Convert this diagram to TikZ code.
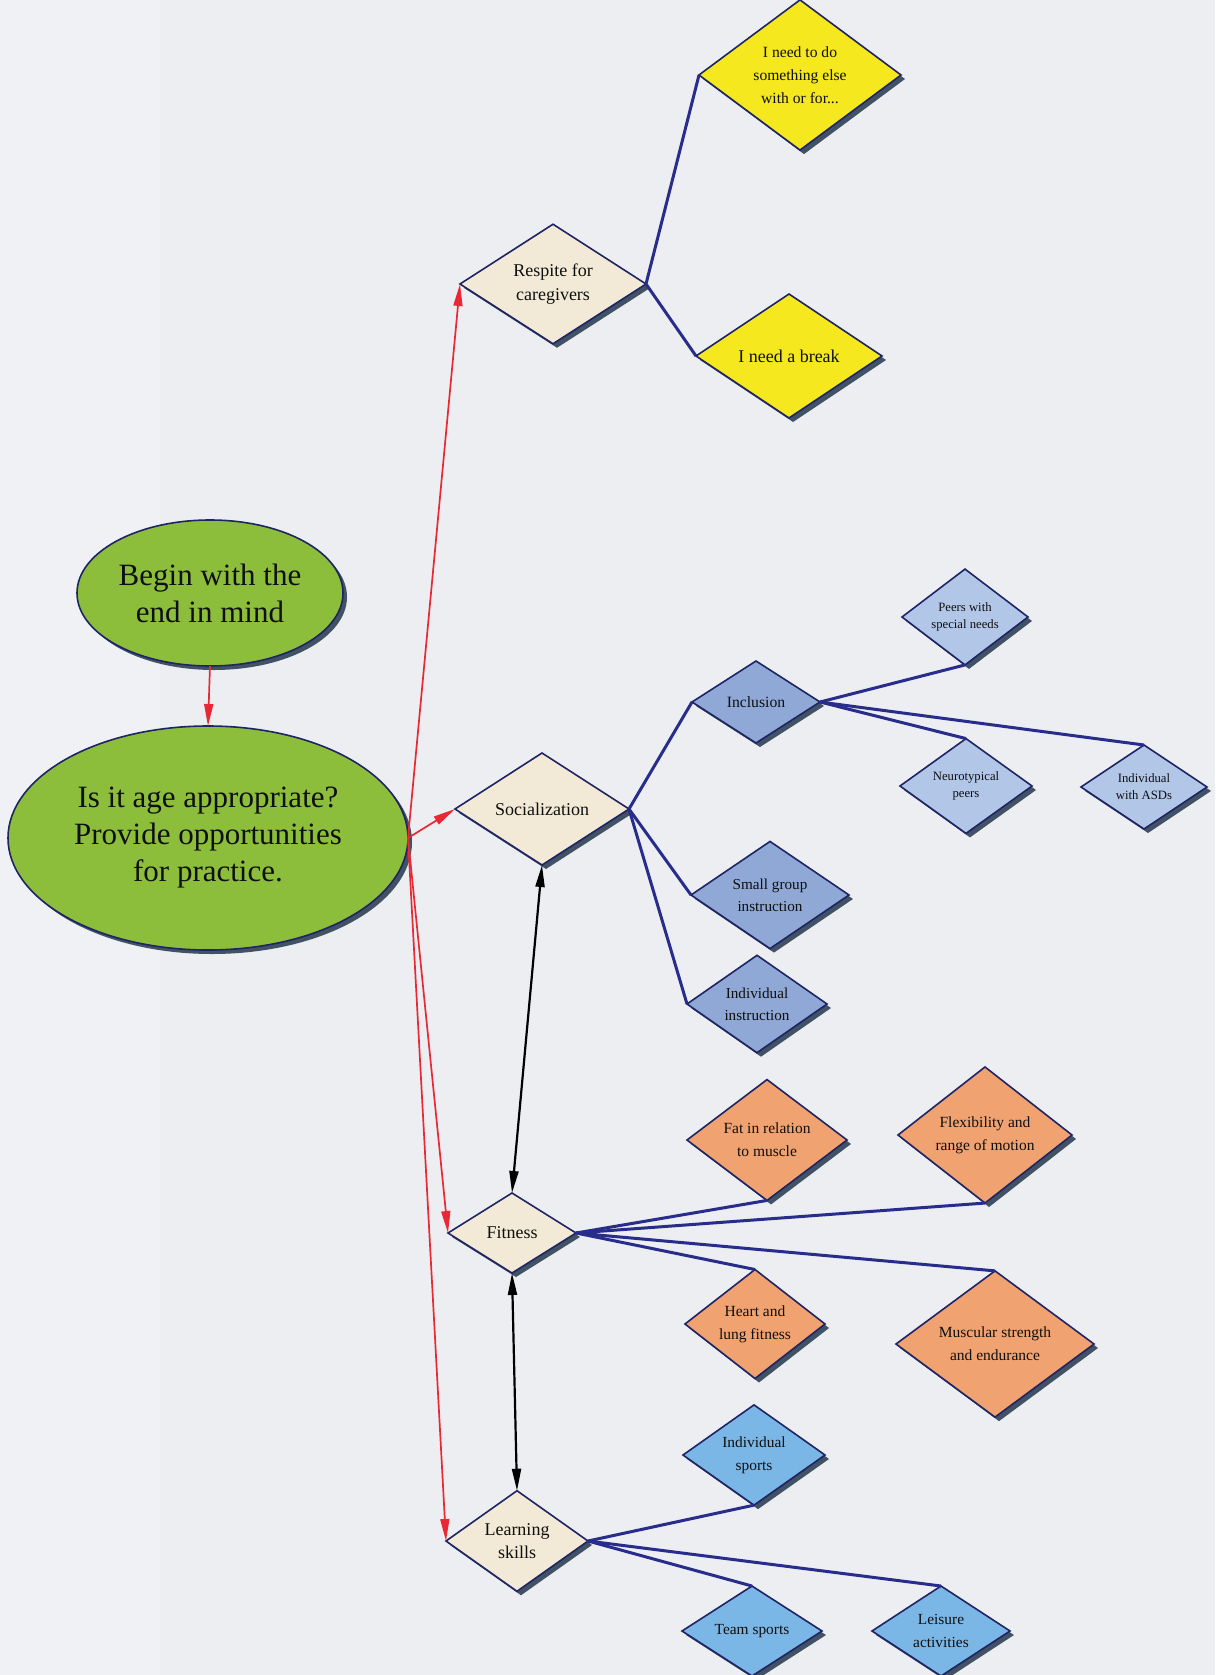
\documentclass[tikz,border=0pt]{standalone}
\usepackage{fontspec}
\setmainfont{Liberation Serif}
\usetikzlibrary{shapes.geometric,arrows.meta,shadows}
\definecolor{bgc}{RGB}{236,238,242}
\definecolor{bgl}{RGB}{240,241,244}
\definecolor{navy}{RGB}{30,36,100}
\definecolor{linkc}{RGB}{40,45,140}
\definecolor{redc}{RGB}{232,40,52}
\definecolor{greenc}{RGB}{140,190,60}
\definecolor{beige}{RGB}{242,234,214}
\definecolor{yel}{RGB}{245,232,30}
\definecolor{socb}{RGB}{143,168,214}
\definecolor{socl}{RGB}{178,198,232}
\definecolor{orng}{RGB}{240,162,112}
\definecolor{skyb}{RGB}{122,182,230}
\definecolor{shadowc}{RGB}{48,66,86}
\definecolor{textc}{RGB}{15,15,15}
\newcommand\myfs[2]{\fontsize{#1}{#2}\selectfont}
\begin{document}
\begin{tikzpicture}[x=1pt,y=-1pt,
  dia/.style={diamond, draw=navy, line width=1.6pt, inner sep=0pt, outer sep=0pt,
    align=center, text=textc,
    drop shadow={shadow xshift=4pt, shadow yshift=-4pt, fill=shadowc, opacity=0.9}},
  ell/.style={ellipse, draw=navy, line width=1.6pt, fill=greenc, inner sep=0pt, outer sep=0pt,
    align=center, text=textc, font=\myfs{31}{37},
    drop shadow={shadow xshift=4pt, shadow yshift=-4pt, fill=shadowc, opacity=0.9}},
  dsz/.style 2 args={minimum width=#1pt, minimum height=#2pt},
  main/.style={dia, fill=beige, font=\myfs{18}{23.5}},
  link/.style={draw=linkc, line width=3pt, line join=round},
  redarrow/.style={draw=redc, line width=1.7pt, -{Triangle[length=22pt,width=9pt]}, fill=redc},
  duo/.style={draw=black, line width=2.2pt, {Triangle[length=22pt,width=9pt]}-{Triangle[length=22pt,width=9pt]}}
]
\useasboundingbox (0,0) rectangle (1215,1675);
\fill[bgc] (0,0) rectangle (1215,1675);
\fill[bgl] (0,0) rectangle (160,1675);

% ellipses
\node[ell, minimum width=266pt, minimum height=146pt] (begin) at (210,593) {Begin with the\\end in mind};
\node[ell, minimum width=400pt, minimum height=224pt] (age) at (208,838) {Is it age appropriate?\\Provide opportunities\\for practice.};

% main diamonds
\node[main, dsz={186}{116}] (resp) at (553,284) {Respite for\\caregivers};
\node[main, dsz={174}{112}] (soc) at (542,809) {Socialization};
\node[main, dsz={128}{80}] (fit) at (512,1233) {Fitness};
\node[main, dsz={142}{90}] (learn) at (517,1541) {Learning\\skills};

% respite children
\node[dia, fill=yel, dsz={202}{126}, font=\myfs{15.6}{23}] (yel1) at (800,75) {I need to do\\something else\\with or for...};
\node[dia, fill=yel, dsz={186}{124}, font=\myfs{18}{23}] (brk) at (789,356) {I need a break};

% socialization children
\node[dia, fill=socb, dsz={128}{82}, font=\myfs{15.7}{21.7}] (incl) at (756,702) {Inclusion};
\node[dia, fill=socb, dsz={158}{104}, font=\myfs{15.2}{21.7}] (small) at (770,895) {Small group\\instruction};
\node[dia, fill=socb, dsz={140}{86}, font=\myfs{15.2}{21.7}] (indiv) at (757,1004) {Individual\\instruction};
\node[dia, fill=socl, dsz={126}{84}, font=\myfs{12.7}{17}] (peers) at (965,617) {Peers with\\special needs};
\node[dia, fill=socl, dsz={132}{84}, font=\myfs{12.7}{17}] (neuro) at (966,786) {Neurotypical\\peers};
\node[dia, fill=socl, dsz={126}{84}, font=\myfs{12.7}{17}] (asd) at (1144,787) {Individual\\with ASDs};

% fitness children
\node[dia, fill=orng, dsz={160}{104}, font=\myfs{15.5}{23}] (fat) at (767,1140) {Fat in relation\\to muscle};
\node[dia, fill=orng, dsz={174}{118}, font=\myfs{15.5}{23}] (flex) at (985,1135) {Flexibility and\\range of motion};
\node[dia, fill=orng, dsz={140}{92}, font=\myfs{15.5}{23}] (heart) at (755,1324) {Heart and\\lung fitness};
\node[dia, fill=orng, dsz={198}{132}, font=\myfs{15.5}{23}] (musc) at (995,1344) {Muscular strength\\and endurance};

% learning children
\node[dia, fill=skyb, dsz={142}{90}, font=\myfs{15.4}{23}] (isports) at (754,1455) {Individual\\sports};
\node[dia, fill=skyb, dsz={140}{90}, font=\myfs{15.4}{23}] (team) at (752,1631) {Team sports};
\node[dia, fill=skyb, dsz={138}{90}, font=\myfs{15.4}{23}] (leis) at (941,1631) {Leisure\\activities};

% blue links
\draw[link] (yel1.west) -- (resp.east) -- (brk.west);
\draw[link] (incl.west) -- (soc.east) -- (small.west);
\draw[link] (soc.east) -- (indiv.west);
\draw[link] (peers.south) -- (incl.east) -- (neuro.north);
\draw[link] (incl.east) -- (asd.north);
\draw[link] (fat.south) -- (fit.east) -- (heart.north);
\draw[link] (flex.south) -- (fit.east) -- (musc.north);
\draw[link] (isports.south) -- (learn.east) -- (team.north);
\draw[link] (learn.east) -- (leis.north);

% red arrows
\draw[redarrow] (begin.south) -- (age.north);
\draw[redarrow] (age.east) -- (resp.west);
\draw[redarrow] (age.east) -- (soc.west);
\draw[redarrow] (age.east) -- (fit.west);
\draw[redarrow] (age.east) -- (learn.west);

% black double arrows
\draw[duo] (soc.south) -- (fit.north);
\draw[duo] (fit.south) -- (learn.north);
\end{tikzpicture}
\end{document}
